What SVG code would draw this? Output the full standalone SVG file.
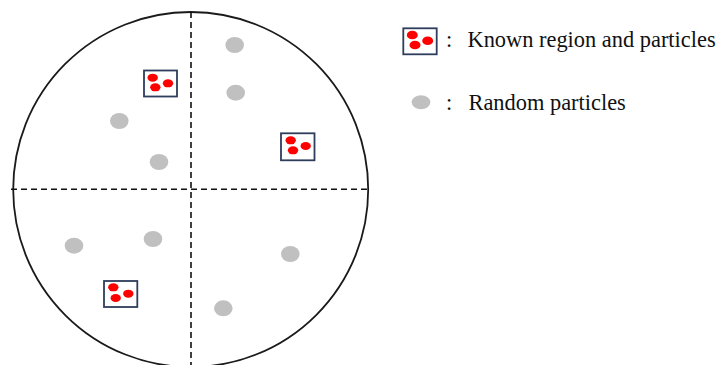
<svg xmlns="http://www.w3.org/2000/svg" width="724" height="365" viewBox="0 0 724 365">
<style>
.axis{stroke:#111;stroke-width:1.6;stroke-dasharray:6 4;fill:none}
.rim{stroke:#1a1a1a;stroke-width:1.8;fill:none}
.box{fill:#fff;stroke:#2f3d5c;stroke-width:1.8}
.red{fill:#ff0000}
.gray{fill:#c0c0c0}
.lbl{font-family:"Liberation Serif","Times New Roman",serif;font-size:22.4px;fill:#111}
</style>
<rect width="724" height="365" fill="#fff"/>
<g id="field">
<circle class="rim" cx="190.7" cy="189.5" r="177.5"/>
</g>
<g id="connectors">
<line class="axis" x1="11" y1="189.3" x2="368" y2="189.3"/>
<line class="axis" x1="191" y1="12" x2="191" y2="365"/>
</g>
<g id="known1">
<rect class="box" x="144" y="70.5" width="33" height="26"/>
<ellipse class="red" cx="152.7" cy="77.7" rx="5.2" ry="4"/>
<ellipse class="red" cx="168" cy="83.3" rx="5.2" ry="4"/>
<ellipse class="red" cx="155.3" cy="87.3" rx="5.2" ry="4"/>
</g>
<g id="known2">
<rect class="box" x="281" y="133.3" width="33.5" height="27"/>
<ellipse class="red" cx="290.7" cy="140.3" rx="5.2" ry="4"/>
<ellipse class="red" cx="305.7" cy="146" rx="5.2" ry="4"/>
<ellipse class="red" cx="293" cy="150.3" rx="5.2" ry="4"/>
</g>
<g id="known3">
<rect class="box" x="104" y="281" width="33.3" height="26"/>
<ellipse class="red" cx="113.3" cy="287.3" rx="5.2" ry="4"/>
<ellipse class="red" cx="128.3" cy="293.7" rx="5.2" ry="4"/>
<ellipse class="red" cx="115.7" cy="298" rx="5.2" ry="4"/>
</g>
<g id="random">
<ellipse class="gray" cx="234.7" cy="45" rx="9.3" ry="8"/>
<ellipse class="gray" cx="235.7" cy="92.7" rx="9.3" ry="8"/>
<ellipse class="gray" cx="119.3" cy="121" rx="9.3" ry="8"/>
<ellipse class="gray" cx="159" cy="162" rx="9.3" ry="8"/>
<ellipse class="gray" cx="74" cy="245.7" rx="9.3" ry="8"/>
<ellipse class="gray" cx="153" cy="239" rx="9.3" ry="8"/>
<ellipse class="gray" cx="290.3" cy="254" rx="9.3" ry="8"/>
<ellipse class="gray" cx="223.3" cy="308.3" rx="9.3" ry="8"/>
</g>
<g id="legend-known">
<rect class="box" x="403.3" y="28.3" width="33.4" height="26"/>
<ellipse class="red" cx="412.3" cy="35" rx="5.5" ry="4.3"/>
<ellipse class="red" cx="427.7" cy="40.7" rx="5.5" ry="4.3"/>
<ellipse class="red" cx="415" cy="45" rx="5.5" ry="4.3"/>
<text class="lbl" x="446" y="47">:</text>
<text class="lbl" x="467.5" y="47">Known region and particles</text>
</g>
<g id="legend-random">
<ellipse class="gray" cx="421" cy="102.3" rx="9.3" ry="7"/>
<text class="lbl" x="446" y="109.5">:</text>
<text class="lbl" x="468.5" y="109.5">Random particles</text>
</g>
</svg>
